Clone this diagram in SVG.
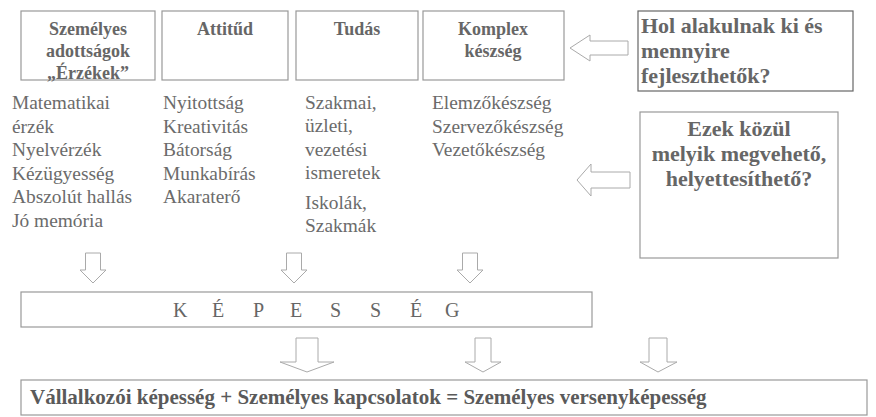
<svg xmlns="http://www.w3.org/2000/svg" width="876" height="417" viewBox="0 0 876 417">
<style>
text{font-family:"Liberation Serif","Times New Roman","DejaVu Serif",serif}
.box{fill:#fff;stroke:#999;stroke-width:1.2}
.qbox{fill:#fff;stroke:#666;stroke-width:1.2}
.arr{fill:#fff;stroke:#aaa;stroke-width:1}
.hd{font-weight:bold;font-size:18px;fill:#666;text-anchor:middle}
.q{font-weight:bold;font-size:22px;fill:#666}
.t{font-size:19.4px;fill:#6b6b6b}
.cap{font-size:20px;fill:#666}
.bt{font-weight:bold;font-size:21px;fill:#5a5a5a}
</style>
<rect width="876" height="417" fill="#fff"/>
<g id="szemelyes">
<rect class="box" x="21" y="11" width="134" height="69"/>
<text class="hd" x="88" y="35">Személyes</text>
<text class="hd" x="88" y="57">adottságok</text>
<text class="hd" x="88" y="79">„Érzékek”</text>
</g>
<g id="attitud">
<rect class="box" x="162" y="11" width="126" height="69"/>
<text class="hd" x="225" y="35">Attitűd</text>
</g>
<g id="tudas">
<rect class="box" x="296" y="11" width="122" height="69"/>
<text class="hd" x="357" y="35">Tudás</text>
</g>
<g id="komplex">
<rect class="box" x="423" y="11" width="141" height="69"/>
<text class="hd" x="493" y="35">Komplex</text>
<text class="hd" x="493" y="57">készség</text>
</g>
<g id="kerdes1">
<rect class="qbox" x="638" y="11" width="215" height="80"/>
<text class="q" x="641" y="33">Hol alakulnak ki és</text>
<text class="q" x="641" y="58">mennyire</text>
<text class="q" x="641" y="83">fejleszthetők?</text>
</g>
<g id="kerdes2">
<rect class="box" x="640" y="112" width="198" height="146"/>
<text class="q" x="739" y="136" text-anchor="middle">Ezek közül</text>
<text class="q" x="739" y="161" text-anchor="middle">melyik megvehető,</text>
<text class="q" x="739" y="186" text-anchor="middle">helyettesíthető?</text>
</g>
<g id="lista1">
<text class="t" x="12" y="109">Matematikai</text>
<text class="t" x="12" y="133">érzék</text>
<text class="t" x="12" y="156">Nyelvérzék</text>
<text class="t" x="12" y="180">Kézügyesség</text>
<text class="t" x="12" y="203">Abszolút hallás</text>
<text class="t" x="12" y="227">Jó memória</text>
</g>
<g id="lista2">
<text class="t" x="163" y="109">Nyitottság</text>
<text class="t" x="163" y="133">Kreativitás</text>
<text class="t" x="163" y="156">Bátorság</text>
<text class="t" x="163" y="180">Munkabírás</text>
<text class="t" x="163" y="203">Akaraterő</text>
</g>
<g id="lista3">
<text class="t" x="305" y="109">Szakmai,</text>
<text class="t" x="305" y="132">üzleti,</text>
<text class="t" x="305" y="156">vezetési</text>
<text class="t" x="305" y="179">ismeretek</text>
<text class="t" x="305" y="209">Iskolák,</text>
<text class="t" x="305" y="232">Szakmák</text>
</g>
<g id="lista4">
<text class="t" x="432" y="109">Elemzőkészség</text>
<text class="t" x="432" y="133">Szervezőkészség</text>
<text class="t" x="432" y="156">Vezetőkészség</text>
</g>
<g id="kepesseg">
<rect class="box" x="21" y="292" width="571" height="35"/>
<text class="cap" x="173" y="317">K</text>
<text class="cap" x="212" y="317">É</text>
<text class="cap" x="253" y="317">P</text>
<text class="cap" x="290" y="317">E</text>
<text class="cap" x="330" y="317">S</text>
<text class="cap" x="370" y="317">S</text>
<text class="cap" x="410" y="317">É</text>
<text class="cap" x="445" y="317">G</text>
</g>
<g id="versenykepesseg">
<rect class="box" x="21" y="380" width="846" height="35"/>
<text class="bt" x="30" y="404">Vállalkozói képesség + Személyes kapcsolatok = Személyes versenyképesség</text>
</g>
<g id="connectors">
<polygon class="arr" points="570,48 590,35 590,41 628,41 628,55 590,55 590,61"/>
<polygon class="arr" points="577,180 591,164 591,172 630,172 630,188 591,188 591,196"/>
<polygon class="arr" points="85.5,253 100.5,253 100.5,270 106,270 93,283 80,270 85.5,270"/>
<polygon class="arr" points="286.5,253 301.5,253 301.5,270 307,270 294,283 281,270 286.5,270"/>
<polygon class="arr" points="462.5,253 477.5,253 477.5,270 483,270 470,283 457,270 462.5,270"/>
<polygon class="arr" points="296,338 318,338 318,362 334,362 307,372 280,362 296,362"/>
<polygon class="arr" points="475,338 491,338 491,362 501,362 483,372 465,362 475,362"/>
<polygon class="arr" points="649,338 667,338 667,362 677,362 658,372 640,362 649,362"/>
</g>
</svg>
